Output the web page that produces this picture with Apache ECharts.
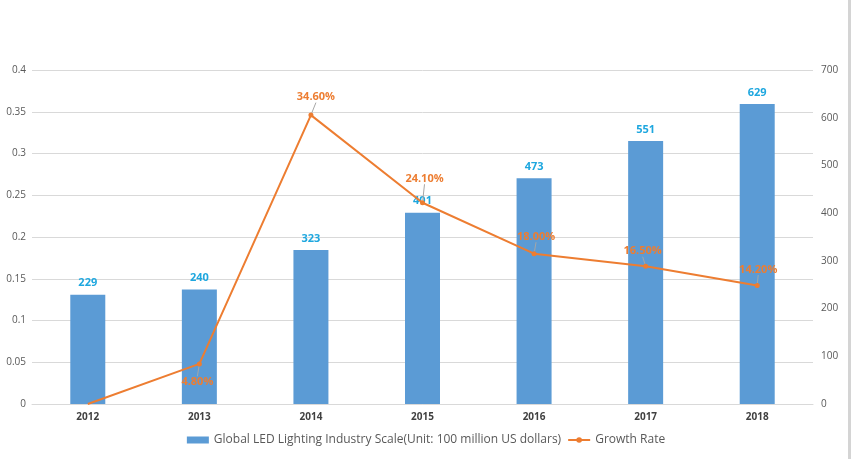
<!DOCTYPE html>
<html>
<head>
<meta charset="utf-8">
<script src="https://cdn.jsdelivr.net/npm/echarts@6/dist/echarts.min.js"></script>
<style>
html, body { margin: 0; padding: 0; background: #fff; }
#main { width: 852px; height: 459px; }
</style>
</head>
<body>
<div id="main"></div>
<script>
var years = ['2012', '2013', '2014', '2015', '2016', '2017', '2018'];
var scale = [229, 240, 323, 401, 473, 551, 629];
var growth = [0, 0.048, 0.346, 0.241, 0.18, 0.165, 0.142];
// label nudges for the growth labels (px), first point has no label
var growthLabelDy = [0, 32, -4, -10, -3, -1, -2];
var growthLabelDx = [0, -2, 5, 2, 2, -3, 1];

var chart = echarts.init(document.getElementById('main'));
var option = {
  animation: false,
  textStyle: { fontFamily: 'Open Sans' },
  grid: { left: 32, right: 39, top: 70, bottom: 55 },
  graphic: [
    { type: 'rect', right: 1, top: 0, shape: { width: 3, height: 459 }, style: { fill: '#d4d4d4' }, silent: true }
  ],
  legend: {
    bottom: 8,
    itemWidth: 22,
    itemHeight: 7,
    itemGap: 6,
    textStyle: { fontSize: 12, color: '#595959' },
    data: [
      { name: 'Global LED Lighting Industry Scale(Unit: 100 million US dollars)', icon: 'rect' },
      { name: 'Growth Rate' }
    ]
  },
  xAxis: {
    type: 'category',
    data: years,
    axisTick: { show: false },
    axisLine: { lineStyle: { color: '#d9d9d9' } },
    axisLabel: { fontSize: 10, fontWeight: 'bold', color: '#404040', margin: 8 }
  },
  yAxis: [
    {
      type: 'value', min: 0, max: 0.4, interval: 0.05,
      axisLine: { show: false }, axisTick: { show: false },
      splitLine: { lineStyle: { color: '#d9d9d9' } },
      axisLabel: { fontSize: 10, color: '#595959', margin: 6 }
    },
    {
      type: 'value', min: 0, max: 700, interval: 100,
      axisLine: { show: false }, axisTick: { show: false },
      splitLine: { show: false },
      axisLabel: { fontSize: 10, color: '#595959', margin: 8 }
    }
  ],
  series: [
    {
      name: 'Global LED Lighting Industry Scale(Unit: 100 million US dollars)',
      type: 'bar',
      yAxisIndex: 1,
      data: scale,
      barWidth: 35,
      itemStyle: { color: '#5b9bd5' },
      label: { show: true, position: 'top', fontSize: 11, fontWeight: 'bold', color: '#1ea7df', distance: 6 }
    },
    {
      name: 'Growth Rate',
      type: 'line',
      yAxisIndex: 0,
      data: growth.map(function (v, i) {
        return i === 0 ? { value: v, symbol: 'none' } : v;
      }),
      symbol: 'circle',
      symbolSize: 5,
      lineStyle: { color: '#ed7d31', width: 2 },
      itemStyle: { color: '#ed7d31' },
      label: {
        show: true, position: 'top', fontSize: 11, fontWeight: 'bold', color: '#ed7d31', distance: 6,
        formatter: function (p) {
          return p.dataIndex === 0 ? '' : (p.value * 100).toFixed(2) + '%';
        }
      },
      labelLine: { show: true, lineStyle: { color: '#a6a6a6', width: 1 } },
      labelLayout: function (p) {
        return { dx: growthLabelDx[p.dataIndex], dy: growthLabelDy[p.dataIndex] };
      },
      z: 3
    }
  ]
};
chart.setOption(option);
window.onresize = chart.resize;
</script>
</body>
</html>
